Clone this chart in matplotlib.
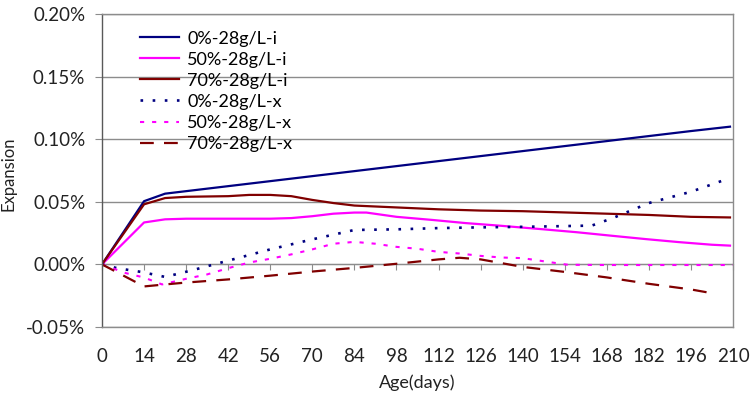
import matplotlib
matplotlib.use('Agg')
import matplotlib.pyplot as plt
from matplotlib.ticker import FuncFormatter, MultipleLocator

plt.rcParams['font.family'] = ['Lato', 'DejaVu Sans']

# expansion (%) vs age (days)
days_0i = [0, 14, 21, 28, 42, 56, 70, 84, 98, 112, 126, 140, 154, 168, 182, 196, 209]
exp_0i = [0, 0.0505, 0.0565, 0.0585, 0.0625, 0.0665, 0.0705, 0.0745, 0.0785, 0.0825,
          0.0865, 0.0905, 0.0945, 0.0985, 0.1025, 0.1065, 0.110]

days_50i = [0, 14, 21, 28, 56, 63, 70, 77, 84, 88, 98, 110, 121, 132, 147, 158, 170, 181, 192, 203, 209]
exp_50i = [0, 0.0335, 0.036, 0.0365, 0.0365, 0.037, 0.0385, 0.0405, 0.0414, 0.0414, 0.038,
           0.0355, 0.033, 0.031, 0.028, 0.0257, 0.0228, 0.0202, 0.0178, 0.0157, 0.015]

days_70i = [0, 14, 21, 28, 42, 49, 56, 63, 70, 77, 84, 98, 112, 126, 140, 154, 168, 182, 196, 209]
exp_70i = [0, 0.048, 0.053, 0.054, 0.0545, 0.0555, 0.0555, 0.0545, 0.0515, 0.049, 0.047,
           0.0455, 0.044, 0.043, 0.0425, 0.0415, 0.0405, 0.0395, 0.038, 0.0375]

days_0x = [0, 5, 13, 21, 30, 42, 56, 70, 84, 98, 112, 126, 140, 154, 163, 170, 182, 196, 209]
exp_0x = [0, -0.003, -0.006, -0.010, -0.0047, 0.003, 0.012, 0.020, 0.0275, 0.028, 0.029,
          0.0296, 0.030, 0.0306, 0.031, 0.037, 0.049, 0.058, 0.069]

days_50x = [0, 8, 14, 20, 28, 35, 42, 49, 56, 63, 70, 77, 84, 91, 98, 105, 112, 119, 126,
            133, 140, 147, 155, 168, 182, 196, 210]
exp_50x = [0, -0.007, -0.0105, -0.016, -0.0115, -0.008, -0.003, 0.0015, 0.0045, 0.008, 0.012,
           0.0165, 0.018, 0.0165, 0.014, 0.0125, 0.010, 0.0087, 0.0068, 0.0055, 0.005, 0.0025,
           -0.0003, -0.0005, -0.0005, -0.0005, -0.0005]

days_70x = [0, 14, 21, 28, 42, 56, 70, 84, 98, 112, 119, 126, 140, 154, 168, 182, 196, 203]
exp_70x = [0, -0.0176, -0.016, -0.0145, -0.012, -0.009, -0.0057, -0.0028, 0.0005, 0.004,
           0.0053, 0.004, -0.002, -0.006, -0.0104, -0.0155, -0.020, -0.023]

xticks = list(range(0, 211, 14))

navy = '#000080'
magenta = '#ff00ff'
maroon = '#800000'
txt = '#222222'

fig = plt.figure(figsize=(7.54, 3.95), dpi=100)
ax = fig.add_axes([102 / 754, 68 / 395, 631 / 754, 313 / 395])

ax.plot(days_0i, exp_0i, color=navy, lw=1.6, label='0%-28g/L-i')
ax.plot(days_50i, exp_50i, color=magenta, lw=1.6, label='50%-28g/L-i')
ax.plot(days_70i, exp_70i, color=maroon, lw=1.6, label='70%-28g/L-i')
ax.plot(days_0x, exp_0x, color=navy, lw=1.9, linestyle=(0, (1.0, 3.6)), label='0%-28g/L-x')
ax.plot(days_50x, exp_50x, color=magenta, lw=1.5, linestyle=(0, (2.0, 3.8)), label='50%-28g/L-x')
ax.plot(days_70x, exp_70x, color=maroon, lw=1.6, linestyle=(0, (6.2, 4.6)), label='70%-28g/L-x')

ax.set_xlim(0, 210)
ax.set_ylim(-0.05, 0.20)
ax.yaxis.set_major_locator(MultipleLocator(0.05))
ax.yaxis.set_major_formatter(FuncFormatter(lambda v, p: f'{v:.2f}%'))
ax.set_xticks(xticks)
ax.grid(axis='y', color='#8c8c8c', lw=1.0)
ax.set_axisbelow(True)

for s in ax.spines.values():
    s.set_color('#8c8c8c')
    s.set_linewidth(1.0)
ax.spines['left'].set_color('#595959')

ax.tick_params(axis='y', direction='out', length=5, color='#8c8c8c', labelsize=13.5, pad=7,
               labelcolor=txt)
ax.tick_params(axis='x', length=0, labelsize=13.5, pad=15, labelcolor=txt)

# horizontal axis crosses at 0 with its tick marks
sec = ax.secondary_xaxis(0.2)
sec.set_xticks(xticks)
sec.set_xticklabels([])
sec.tick_params(direction='out', length=4, color='#8c8c8c')
sec.spines['bottom'].set_color('#8c8c8c')

ax.set_xlabel('Age(days)', fontsize=13, color=txt, labelpad=7)
ax.set_ylabel('Expansion', fontsize=12, color=txt)
ax.yaxis.set_label_coords(-0.136, 0.49)

ax.legend(loc='upper left', bbox_to_anchor=(0.048, 0.97), frameon=False, fontsize=13,
          handlelength=2.2, handletextpad=0.45, labelspacing=0.28, borderaxespad=0)

fig.savefig('out.png', dpi=100)
